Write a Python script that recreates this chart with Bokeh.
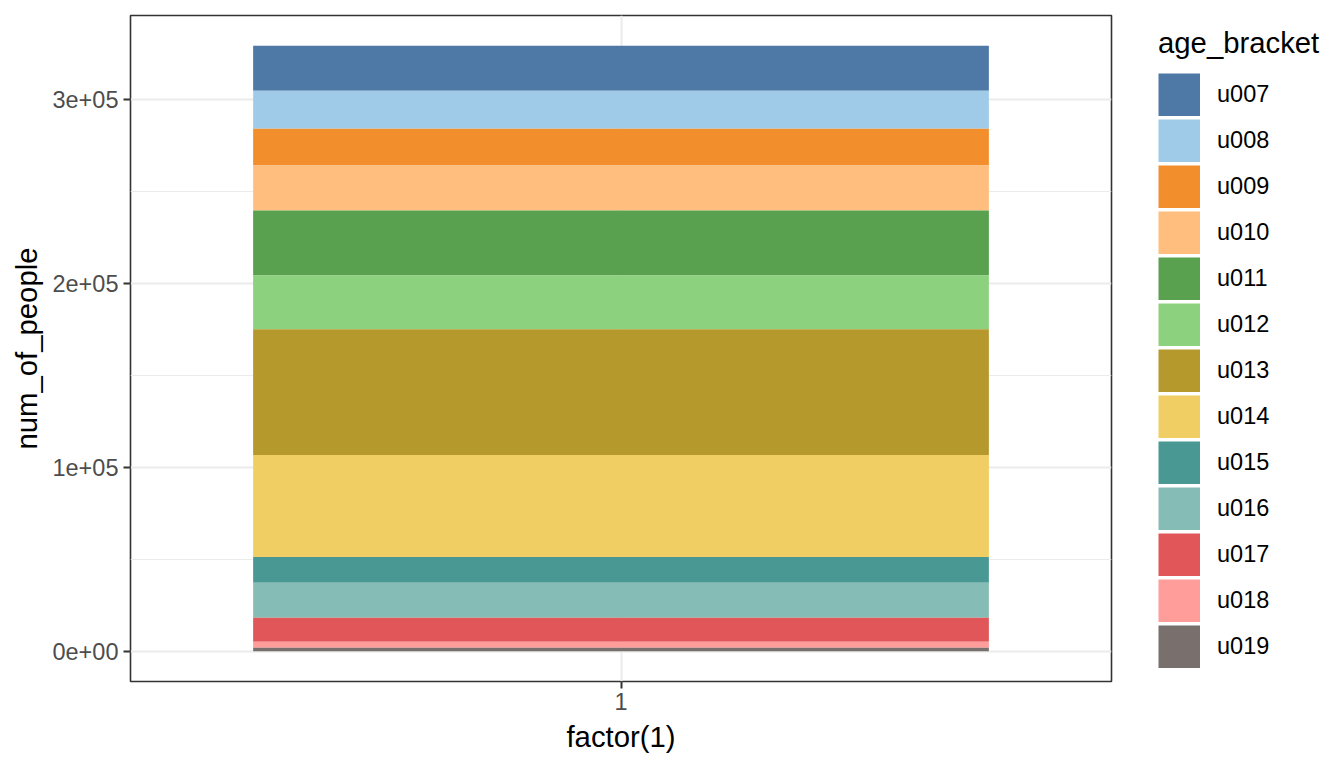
import numpy as np
from bokeh.plotting import figure
from bokeh.layouts import row
from bokeh.models import ColumnDataSource, Range1d, FixedTicker, Legend, LegendItem
from bokeh.embed import file_html
from bokeh.resources import INLINE

# ---- data ----
age_brackets = ["u007", "u008", "u009", "u010", "u011", "u012", "u013",
                "u014", "u015", "u016", "u017", "u018", "u019"]
num_of_people = [24430, 20640, 20090, 24430, 35300, 29320, 68410,
                 55390, 14120, 19000, 13030, 3260, 1900]
bracket_colors = ["#4E79A7", "#A0CBE8", "#F28E2B", "#FFBE7D", "#59A14F",
                  "#8CD17D", "#B6992D", "#F1CE63", "#499894", "#86BCB6",
                  "#E15759", "#FF9D9A", "#79706E"]
x_category = 1
x_tick_label = "1"
y_ticks = [0, 100000, 200000, 300000]
y_minor_ticks = [50000, 150000, 250000]
y_tick_labels = ["0e+00", "1e+05", "2e+05", "3e+05"]

FONT = "Liberation Sans"
H = 760

vals = np.array(num_of_people, dtype=float)
rev = vals[::-1]                      # last bracket sits at the bottom
tops_rev = np.cumsum(rev)
bottoms_rev = tops_rev - rev
tops = tops_rev[::-1]
bottoms = bottoms_rev[::-1]
total = vals.sum()
pad = 0.05 * total

source = ColumnDataSource(dict(
    x=[x_category] * len(age_brackets),
    top=tops, bottom=bottoms,
    age=age_brackets, color=bracket_colors,
))

p = figure(width=1113, height=H,
           x_range=Range1d(x_category - 0.6, x_category + 0.6),
           y_range=Range1d(-pad, total + pad),
           output_backend="svg", toolbar_location=None,
           min_border_left=130, min_border_right=2,
           min_border_top=15, min_border_bottom=79)

r = p.vbar(x="x", width=0.9, top="top", bottom="bottom", source=source,
           fill_color="color", line_color=None)

p.background_fill_color = "white"
p.border_fill_color = "white"
p.outline_line_color = "#333333"
p.outline_line_width = 1.6

# x axis
xa = p.xaxis[0]
xa.ticker = FixedTicker(ticks=[x_category])
xa.major_label_overrides = {x_category: x_tick_label}
xa.axis_label = "factor(1)"
# y axis
ya = p.yaxis[0]
ya.ticker = FixedTicker(ticks=y_ticks, minor_ticks=y_minor_ticks)
ya.major_label_overrides = {t: l for t, l in zip(y_ticks, y_tick_labels)}
ya.axis_label = "num_of_people"

for ax in (xa, ya):
    ax.axis_line_color = None
    ax.major_tick_line_color = "#333333"
    ax.major_tick_line_width = 2
    ax.major_tick_out = 7
    ax.major_tick_in = 0
    ax.minor_tick_line_color = None
    ax.major_label_text_font = FONT
    ax.major_label_text_font_size = "23.5px"
    ax.major_label_text_color = "#4D4D4D"
    ax.axis_label_text_font = FONT
    ax.axis_label_text_font_size = "29.3px"
    ax.axis_label_text_font_style = "normal"
    ax.axis_label_text_color = "black"

xa.major_label_standoff = 4
xa.axis_label_standoff = 7
ya.major_label_standoff = 5
ya.axis_label_standoff = 6

p.xgrid.grid_line_color = "#EBEBEB"
p.xgrid.grid_line_width = 2
p.ygrid.grid_line_color = "#EBEBEB"
p.ygrid.grid_line_width = 2
p.ygrid.minor_grid_line_color = "#EBEBEB"
p.ygrid.minor_grid_line_width = 1
for g in (p.xgrid[0], p.ygrid[0]):
    g.level = "underlay"

# ---- legend panel (separate figure, same data source) ----
lg = figure(width=1328 - 1113, height=H,
            x_range=Range1d(100, 101), y_range=Range1d(0, 1),
            output_backend="svg", toolbar_location=None,
            min_border_left=0, min_border_right=0,
            min_border_top=0, min_border_bottom=0)
lg.axis.visible = False
lg.grid.visible = False
lg.outline_line_color = None
lg.background_fill_color = "white"
lg.border_fill_color = "white"
# thick segments give full-size colour keys in the legend (off-range, not drawn)
r2 = lg.segment(x0="x", y0="bottom", x1="x", y1="top", source=source,
                line_color="color", line_width=43, line_cap="butt")

items = [LegendItem(label=a, renderers=[r2], index=i) for i, a in enumerate(age_brackets)]
legend = Legend(items=items, location=(45, 13), orientation="vertical",
                title="age_bracket",
                title_text_font=FONT, title_text_font_size="29.3px",
                title_text_font_style="normal", title_text_color="black",
                title_standoff=13,
                label_text_font=FONT, label_text_font_size="23.5px",
                label_text_color="black", label_standoff=17,
                glyph_width=42, glyph_height=43, label_height=43,
                spacing=3, padding=0, margin=0,
                border_line_color=None, background_fill_alpha=0)
lg.add_layout(legend)

layout = row(p, lg)
open("out.html", "w").write(file_html(layout, INLINE))
